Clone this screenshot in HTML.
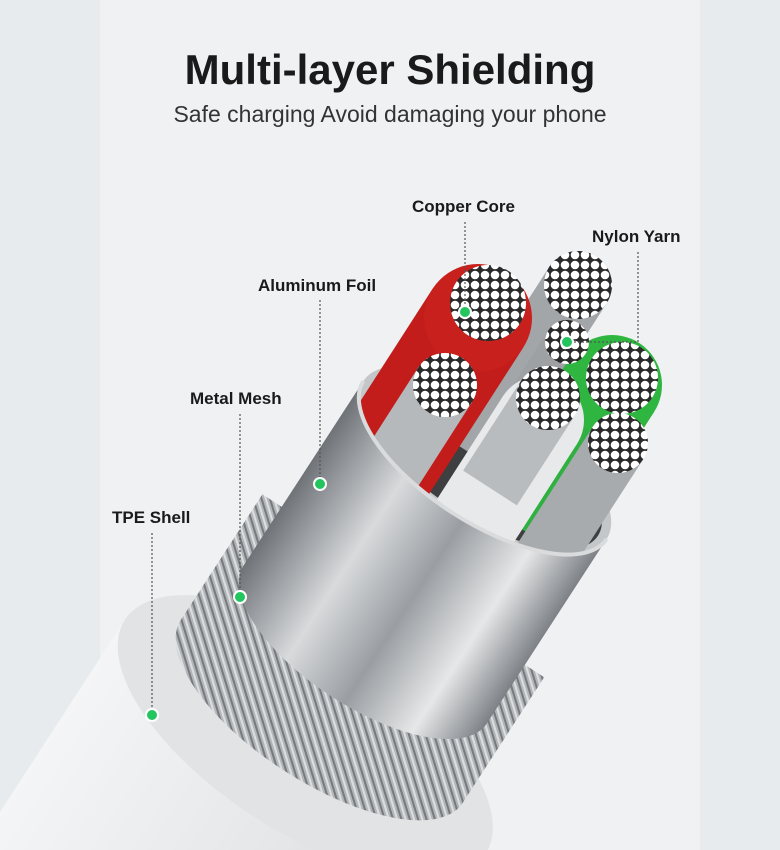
<!DOCTYPE html>
<html><head><meta charset="utf-8"><style>
html,body{margin:0;padding:0;overflow:hidden}
body{width:780px;height:850px;background:#e8ebee;font-family:"Liberation Sans",sans-serif;position:relative;overflow:hidden}
.t{position:absolute;left:0;width:780px;text-align:center}
.l{position:absolute;font-size:17px;color:#1a1a1a;font-weight:bold;white-space:nowrap}
</style></head><body>
<svg width="780" height="850" style="position:absolute;left:0;top:0;display:block">
<defs>
<linearGradient id="foil" x1="0" x2="1" y1="0" y2="0">
<stop offset="0" stop-color="#6f7378"/><stop offset=".3" stop-color="#d8dadc"/><stop offset=".55" stop-color="#9a9ea2"/><stop offset=".8" stop-color="#e6e7e8"/><stop offset="1" stop-color="#7d8186"/></linearGradient>
<linearGradient id="shell" x1="0" x2="1"><stop offset="0" stop-color="#f4f5f6"/><stop offset=".6" stop-color="#e4e6e8"/><stop offset="1" stop-color="#d0d2d5"/></linearGradient>
<pattern id="mesh" width="8" height="8" patternUnits="userSpaceOnUse" patternTransform="rotate(40)">
<rect width="8" height="8" fill="#b3b6b9"/><rect width="8" height="2" fill="#767a7e"/><rect y="4" width="8" height="2" fill="#dcdee0"/></pattern>
<pattern id="dots" width="10" height="10" patternUnits="userSpaceOnUse">
<rect width="10" height="10" fill="#2a2a2a"/><circle cx="5" cy="5" r="4.3" fill="#fff"/></pattern>
</defs>
<rect x="100" y="0" width="600" height="850" fill="#eff1f3"/>
<g transform="translate(485,460) rotate(33)">
<rect x="-215" y="330" width="430" height="700" fill="url(#shell)"/>
<ellipse cx="0" cy="330" rx="215" ry="95" fill="#e1e3e5"/>
<rect x="-168" y="150" width="336" height="150" fill="url(#mesh)"/>
<ellipse cx="0" cy="300" rx="168" ry="70" fill="url(#mesh)"/>
<ellipse cx="0" cy="0" rx="145" ry="62" fill="#c4c7ca"/>
<ellipse cx="0" cy="2" rx="136" ry="56" fill="#3e3f41"/>
</g>
<g fill="none" stroke-linecap="butt">
<line x1="578" y1="285" x2="470" y2="453" stroke="#a3a6a9" stroke-width="68"/>
<circle cx="578" cy="285" r="34" fill="#a3a6a9"/>
<line x1="478" y1="318" x2="370" y2="486" stroke="#c21d1a" stroke-width="108"/>
<circle cx="478" cy="318" r="54" fill="#c8201c"/>
<line x1="445" y1="385" x2="370" y2="502" stroke="#b6b9bc" stroke-width="64"/>
<line x1="567" y1="342" x2="500" y2="446" stroke="#9ea1a4" stroke-width="44"/>
<line x1="612" y1="385" x2="520" y2="528" stroke="#2fb040" stroke-width="100"/>
<circle cx="612" cy="385" r="50" fill="#2fb640"/>
<line x1="540" y1="420" x2="440" y2="576" stroke="#e8e9ea" stroke-width="88"/>
<circle cx="540" cy="420" r="44" fill="#e8e9ea"/>
<line x1="548" y1="398" x2="490" y2="488" stroke="#b9bcbf" stroke-width="64"/>
<line x1="618" y1="443" x2="540" y2="564" stroke="#a8abae" stroke-width="60"/>
</g>
<g transform="translate(485,460) rotate(33)">
<path d="M-145,0 A145 62 0 0 0 145 0 L145,220 A145 62 0 0 1 -145 220 Z" fill="url(#foil)"/>
<path d="M-145,0 A145 62 0 0 0 145 0" fill="none" stroke="#d9dbdd" stroke-width="4"/>
</g>
<circle cx="488" cy="303" r="38" fill="url(#dots)"/>
<circle cx="578" cy="285" r="34" fill="url(#dots)"/>
<circle cx="567" cy="342" r="22" fill="url(#dots)"/>
<circle cx="622" cy="378" r="36" fill="url(#dots)"/>
<circle cx="445" cy="385" r="32" fill="url(#dots)"/>
<circle cx="548" cy="398" r="32" fill="url(#dots)"/>
<circle cx="618" cy="443" r="30" fill="url(#dots)"/>
<g stroke="#555" stroke-width="1.2" stroke-dasharray="2,2" fill="none">
<path d="M465,222V310"/><path d="M638,252V342H570"/><path d="M320,300V482"/><path d="M240,414V595"/><path d="M152,533V713"/>
</g>
<g fill="#22c55e" stroke="#fff" stroke-width="2">
<circle cx="465" cy="312" r="6"/><circle cx="567" cy="342" r="6"/><circle cx="320" cy="484" r="6"/><circle cx="240" cy="597" r="6"/><circle cx="152" cy="715" r="6"/>
</g>
</svg>
<div class="t" style="top:46px;font-size:42px;font-weight:bold;color:#1a1a1a">Multi-layer Shielding</div>
<div class="t" style="top:101px;font-size:23px;color:#333">Safe charging Avoid damaging your phone</div>
<div class="l" style="left:412px;top:197px">Copper Core</div>
<div class="l" style="left:592px;top:227px">Nylon Yarn</div>
<div class="l" style="left:258px;top:276px">Aluminum Foil</div>
<div class="l" style="left:190px;top:389px">Metal Mesh</div>
<div class="l" style="left:112px;top:508px">TPE Shell</div>
</body></html>
